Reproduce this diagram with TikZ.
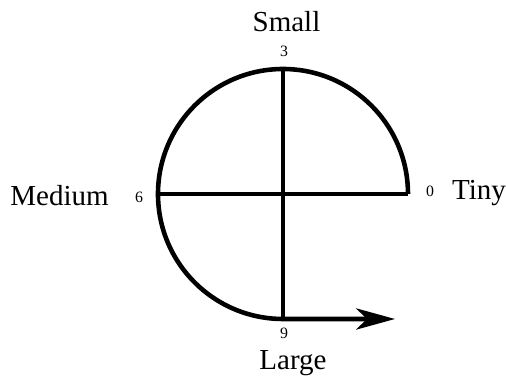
\documentclass[tikz,border=0pt]{standalone}
\usepackage{fontspec}
\setmainfont{Liberation Serif}
\usetikzlibrary{arrows.meta}
\begin{document}
\begin{tikzpicture}[
    word/.style={font=\fontsize{16.5}{19}\selectfont},
    tick/.style={font=\fontsize{9}{10}\selectfont, inner sep=0pt},
    curve/.style={draw=black, line width=2.6pt}
]
    \useasboundingbox (-5.66,-3.72) rectangle (4.46,3.88);

    % Circle points
    \coordinate (centre) at (0,0);
    \coordinate (top) at (0,2.5);
    \coordinate (left) at (-2.5,0);
    \coordinate (right) at (2.5,0);
    \coordinate (bottom) at (0,-2.5);
    \coordinate (arrowend) at (2.24,-2.5);

    % Arc from 0 round to 9, then the arrow
    \draw[curve, -{Stealth[length=22pt, width=12pt, inset=6pt]}] (right) arc[start angle=0, end angle=270, radius=2.5] -- (arrowend);

    % Cross lines
    \draw[curve] (top) -- (bottom);
    \draw[curve] (left) -- (right);

    % Tick numbers
    \node[tick] (n3) at (0.02,2.86) {3};
    \node[tick] (n6) at (-2.88,-0.06) {6};
    \node[tick] (n0) at (2.94,0.06) {0};
    \node[tick] (n9) at (0.02,-2.78) {9};

    % Size words
    \node[word] (small) at (0.07,3.45) {Small};
    \node[word] (medium) at (-4.47,-0.04) {Medium};
    \node[word, anchor=west] (tiny) at (3.26,0.02) {Tiny};
    \node[word] (large) at (0.2,-3.38) {Large};

\end{tikzpicture}
\end{document}
